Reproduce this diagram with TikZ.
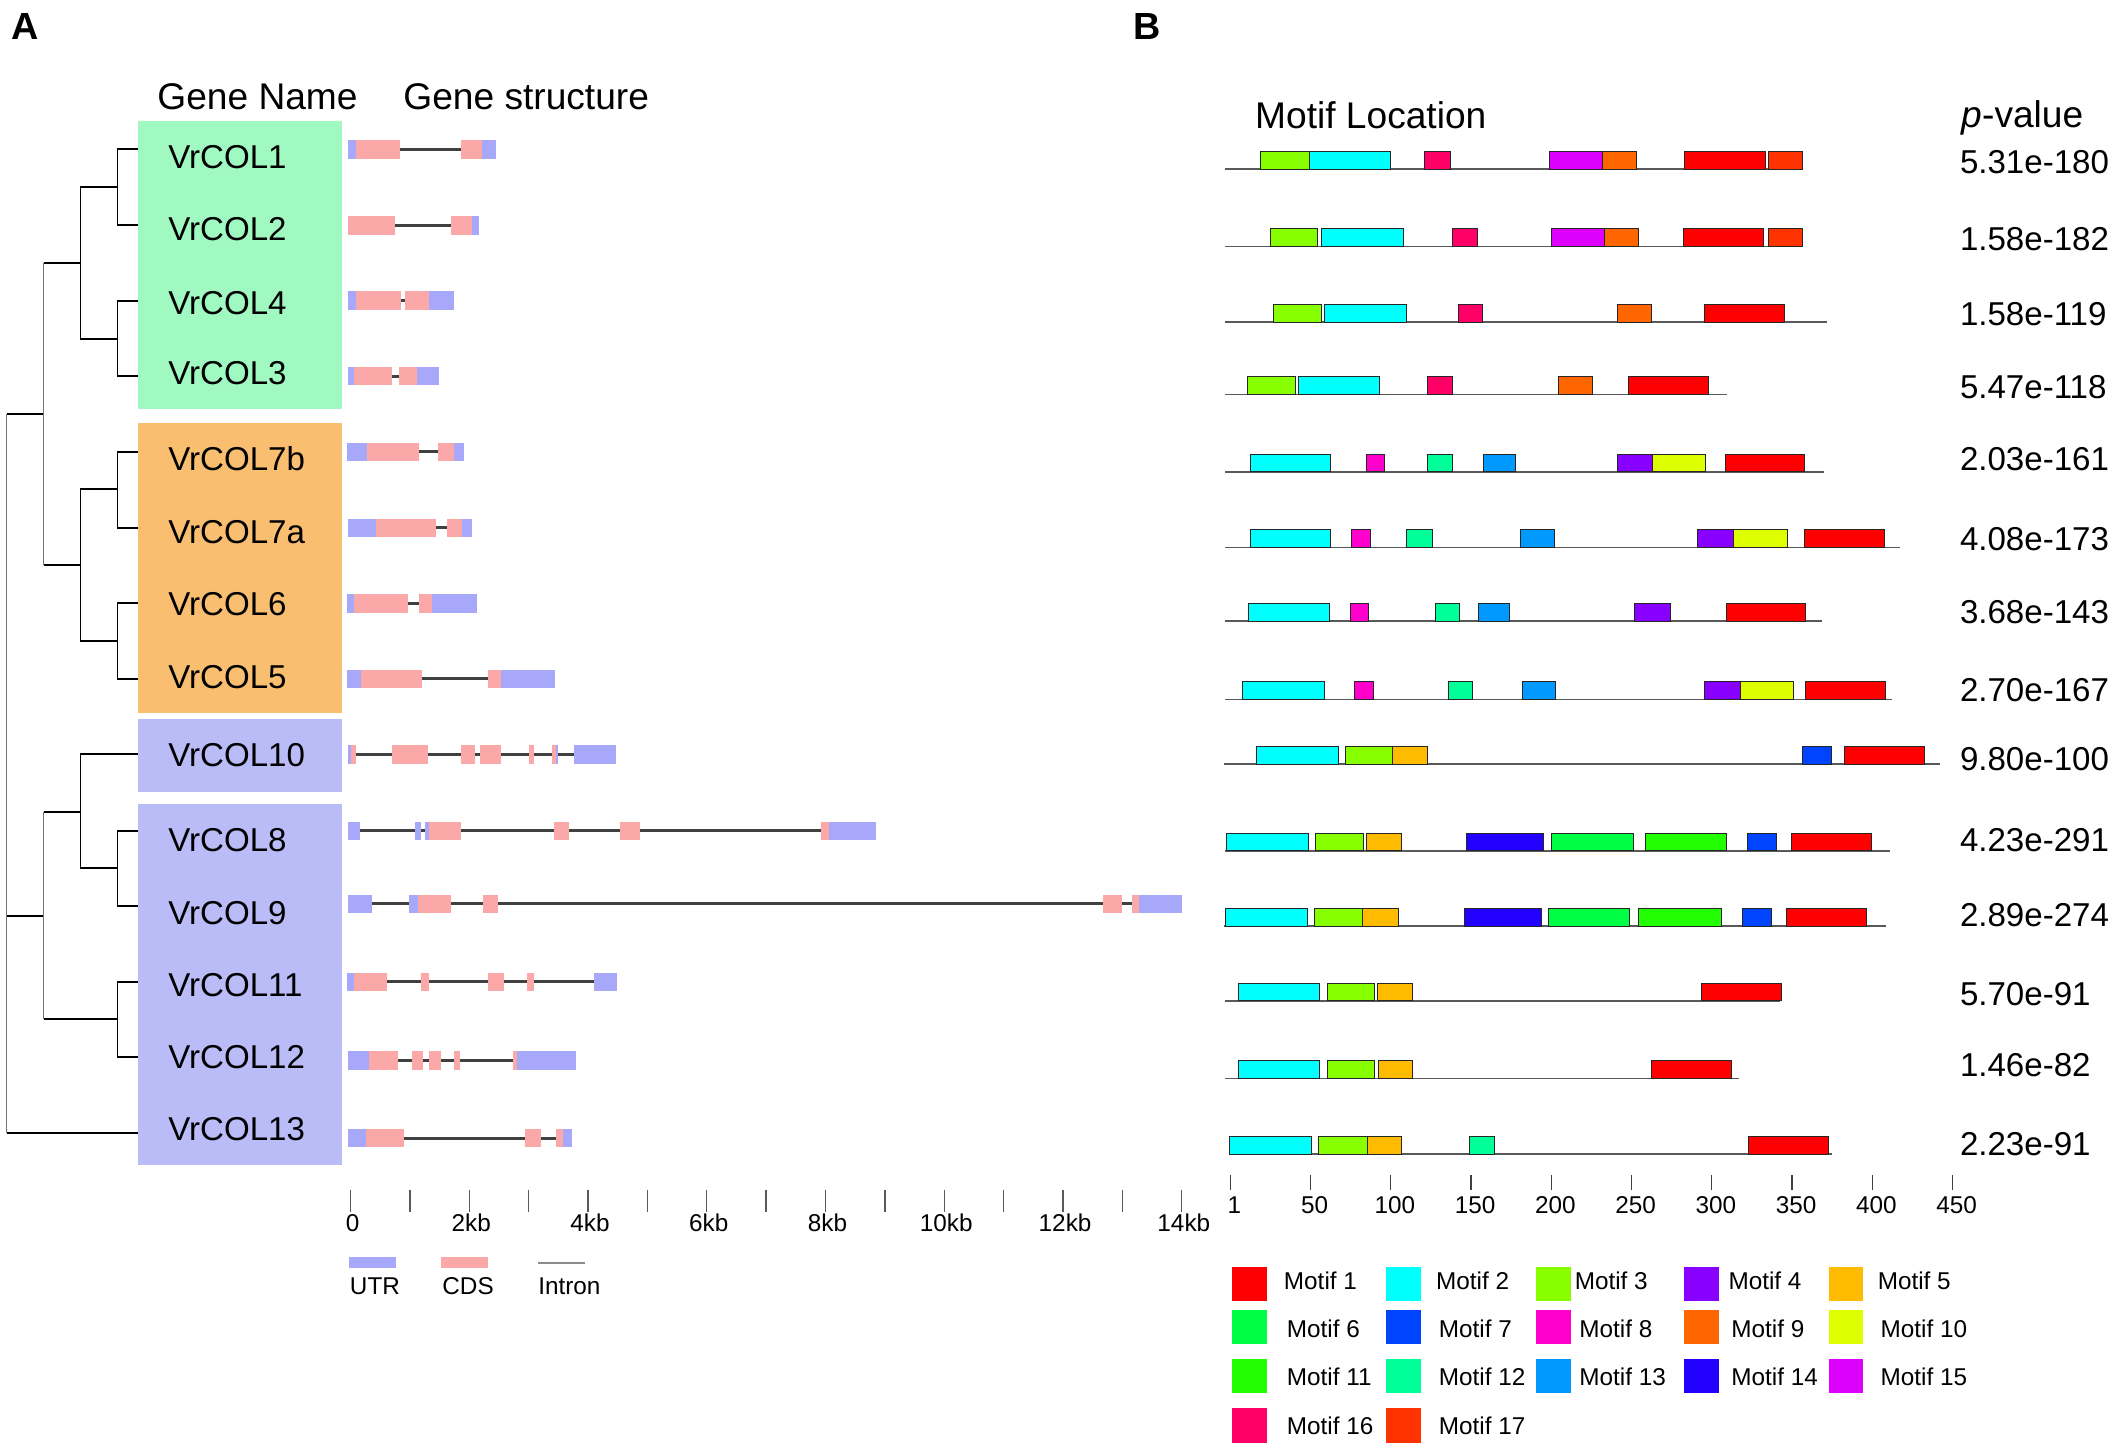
\documentclass[tikz,border=0pt]{standalone}
\usepackage{fontspec}
\setmainfont{Liberation Sans}
\definecolor{utr}{RGB}{168,168,250}
\definecolor{cds}{RGB}{250,168,168}
\definecolor{intr}{RGB}{64,64,64}
\definecolor{grnbox}{RGB}{160,249,192}
\definecolor{orgbox}{RGB}{249,190,112}
\definecolor{blubox}{RGB}{186,188,248}
\definecolor{m1}{RGB}{255,0,0}
\definecolor{m2}{RGB}{0,255,255}
\definecolor{m3}{RGB}{136,255,0}
\definecolor{m4}{RGB}{136,0,255}
\definecolor{m5}{RGB}{255,187,0}
\definecolor{m6}{RGB}{0,255,68}
\definecolor{m7}{RGB}{0,68,255}
\definecolor{m8}{RGB}{255,0,204}
\definecolor{m9}{RGB}{255,102,0}
\definecolor{m10}{RGB}{221,255,0}
\definecolor{m11}{RGB}{34,255,0}
\definecolor{m12}{RGB}{0,255,153}
\definecolor{m13}{RGB}{0,153,255}
\definecolor{m14}{RGB}{34,0,255}
\definecolor{m15}{RGB}{221,0,255}
\definecolor{m16}{RGB}{255,0,102}
\definecolor{m17}{RGB}{255,51,0}
\newcommand\genebar[4]{%
  \draw[intronline] (#2,#1) -- (#3,#1);
  \foreach \colr/\a/\b in {#4} {\fill[fill=\colr] (\a,#1-6.8) rectangle (\b,#1+6.8);}}
\newcommand\motifrow[4]{%
  \draw[mline] (#2,#1) -- (#3,#1);
  \foreach \colr/\a/\b in {#4} {\draw[mbox, fill=\colr] (\a,#1) rectangle (\b,#1-13.2);}}
\begin{document}
\begin{tikzpicture}[x=1pt,y=-1pt,
  tx/.style={inner sep=0pt, anchor=west, text depth=0pt},
  f24/.style={tx, font=\fontsize{24.5}{28}\selectfont, text height=17.5pt},
  f27/.style={tx, font=\fontsize{27.5}{32}\selectfont, text height=19.7pt},
  f22/.style={tx, font=\fontsize{24.5}{28}\selectfont, text height=17.5pt},
  f18/.style={tx, font=\fontsize{18}{21}\selectfont, text height=12.9pt},
  f28b/.style={tx, font=\fontsize{28}{32}\selectfont\bfseries, text height=20.1pt},
  hbr/.style={line width=1.5pt, black},
  vbr/.style={line width=1.1pt, black},
  vbrg/.style={line width=1.1pt, black!55},
  intronline/.style={line width=2.2pt, intr},
  mline/.style={line width=1.2pt, black!65},
  mbox/.style={line width=0.6pt, draw=black!85},
  tickg/.style={line width=1pt, black!65},
  tickm/.style={line width=1pt, black!75}]
\useasboundingbox[fill=white] (0,0) rectangle (1568,1076);

% panel letters and headers
\node[f28b] (pA) at (8.3,18.9) {A};
\node[f28b] (pB) at (839,18.9) {B};
\node[f27] (hGN) at (116.4,71.1) {Gene Name};
\node[f27] (hGS) at (298.6,71.1) {Gene structure};
\node[f27] (hML) at (929.5,85) {Motif Location};
\node[f27] (hPV) at (1452.6,84.5) {\itshape p\upshape-value};

% name boxes
\fill[grnbox] (102,89.4) rectangle (253,303.2);
\fill[orgbox] (102,313.6) rectangle (253,528.4);
\fill[blubox] (102,532.8) rectangle (253,586.4);
\fill[blubox] (102,595.8) rectangle (253,863);

% tree
\foreach \yy in {110.6,166.9,222.7,278.5,334.6,390.9,446.9,502.7,615.3,671.1,727.2,783.2}
  \draw[hbr] (87,\yy) -- (102,\yy);
\draw[hbr] (59.5,558.8) -- (102,558.8);
\draw[hbr] (5,839) -- (102,839);
\foreach \yy in {138.8,250.8,362.5,474.6,643.2}
  \draw[hbr] (59.5,\yy) -- (87,\yy);
\foreach \yy in {194.6,418.5,601.2}
  \draw[hbr] (32.4,\yy) -- (59.5,\yy);
\draw[hbr] (32.4,755) -- (87,755);
\draw[hbr] (5,306.6) -- (32.4,306.6);
\draw[hbr] (5,678.1) -- (32.4,678.1);
\foreach \ya/\yb in {110.6/166.9,222.7/278.5,334.6/390.9,446.9/502.7,615.3/671.1,727.2/783.2}
  \draw[vbr] (87,\ya) -- (87,\yb);
\foreach \ya/\yb in {138.8/250.8,362.5/474.6,558.8/643.2}
  \draw[vbr] (59.5,\ya) -- (59.5,\yb);
\draw[vbrg] (32.4,194.6) -- (32.4,418.5);
\draw[vbrg] (32.4,601.2) -- (32.4,755);
\draw[vbrg] (5,306.6) -- (5,839);

% gene names
\foreach \nm/\yy [count=\i] in {VrCOL1/116,VrCOL2/169.6,VrCOL4/224,VrCOL3/276,VrCOL7b/339.9,VrCOL7a/393.6,VrCOL6/447.3,VrCOL5/501.2,VrCOL10/559.3,VrCOL8/622.2,VrCOL9/675.8,VrCOL11/729.1,VrCOL12/782.7,VrCOL13/835.8}
  \node[f24] (name\i) at (124.5,\yy) {\nm};

% gene structures
\genebar{110.6}{258}{367.7}{utr/258/263.6,cds/263.6/296,cds/341.3/357.2,utr/357.2/367.7}
\genebar{166.9}{258}{354.9}{cds/258/292.7,cds/334/349.6,utr/349.6/354.9}
\genebar{222.7}{258}{336.6}{utr/258/263.6,cds/263.6/297,cds/300.3/317.5,utr/317.5/336.6}
\genebar{278.5}{258}{325.1}{utr/258/262.2,cds/262.2/290.4,cds/295.3/308.5,utr/308.5/325.1}
\genebar{334.6}{257.3}{343.9}{utr/257.3/271.8,cds/271.8/310.2,cds/324.7/336.6,utr/336.6/343.9}
\genebar{390.9}{258}{349.5}{utr/258/278.5,cds/278.5/323.1,cds/331.4/342.3,utr/342.3/349.5}
\genebar{446.9}{257.3}{353.2}{utr/257.3/262.2,cds/262.2/301.9,cds/310.2/320.1,utr/320.1/353.2}
\genebar{502.7}{257.3}{411}{utr/257.3/267.2,cds/267.2/312.5,cds/361.5/371.4,utr/371.4/411}
\genebar{558.8}{258}{456.4}{utr/258/260.3,cds/260.3/263.6,cds/290.4/316.8,cds/341.3/351.5,cds/355.5/371.4,cds/391.9/395.8,cds/409.1/411.7,utr/411.7/413.4,utr/425/456.4}
\genebar{615.3}{258}{648.6}{utr/258/266.9,utr/307.6/311.5,utr/314.8/317.5,cds/317.5/341.6,cds/410.1/421.6,cds/459/473.9,cds/608.4/613.7,utr/613.7/648.6}
\genebar{669.5}{258}{875.2}{utr/258/275.5,utr/303.3/309.9,cds/309.9/334,cds/358.1/368.7,cds/816.9/830.7,cds/838.7/843.5,utr/843.5/875.2}
\genebar{727.2}{257.3}{457}{utr/257.3/262.2,cds/262.2/286.7,cds/311.5/318.1,cds/361.5/373,cds/390.2/395.8,utr/439.8/457}
\genebar{785.5}{258}{426.6}{utr/258/273.5,cds/273.5/295,cds/304.9/313.5,cds/317.5/326.7,cds/336.6/340.6,cds/379.6/382.6,utr/382.6/426.6}
\genebar{843}{258}{423.3}{utr/258/271.2,cds/271.2/299.3,cds/389.2/400.8,cds/411.7/417.3,utr/417.3/423.3}

% gene scale
\foreach \k in {0,...,14}
  \draw[tickg] (259.6+43.98*\k,881.5) -- (259.6+43.98*\k,897.5);
\foreach \k/\t in {0/0,2/2kb,4/4kb,6/6kb,8/8kb,10/10kb,12/12kb,14/14kb}
  \node[f18, anchor=center] (kb\k) at (259.6+43.98*\k+1.5,906) {\t};

% gene legend
\fill[utr] (258.4,930.9) rectangle (293.6,939.5);
\fill[cds] (326.8,930.9) rectangle (361.7,939.5);
\draw[line width=2pt, black!45] (398.7,935.5) -- (433.6,935.5);
\node[f18] (lgU) at (259,952.6) {UTR};
\node[f18] (lgC) at (327.5,952.6) {CDS};
\node[f18] (lgI) at (398.5,952.6) {Intron};

% motif rows
\motifrow{125.4}{907.6}{1335.1}{m3/933.6/969.7,m2/969.7/1030,m16/1055.1/1073.9,m15/1147.9/1187.1,m9/1187.1/1211.8,m1/1247.4/1307.3,m17/1310/1335.1}
\motifrow{182.7}{907.6}{1335.1}{m3/941/976.1,m2/978.8/1039.1,m16/1076.1/1094.4,m15/1149.2/1188.5,m9/1188.5/1213.6,m1/1246.5/1306.4,m17/1309.6/1335.1}
\motifrow{238.7}{907.6}{1353.4}{m3/943.2/978.8,m2/981.1/1041.4,m16/1080.2/1098.1,m9/1197.6/1222.8,m1/1262.1/1321.4}
\motifrow{292.1}{907.6}{1278.9}{m3/924/959.6,m2/961.5/1021.8,m16/1057.4/1076.1,m9/1154.2/1179.4,m1/1205.9/1265.2}
\motifrow{349.4}{907.6}{1351.1}{m2/925.8/985.7,m8/1011.7/1025.4,m12/1057.4/1075.7,m13/1098.5/1122.7,m4/1197.6/1224.1,m10/1224.1/1263,m1/1277.6/1336.1}
\motifrow{405.4}{907.6}{1406.9}{m2/925.8/985.7,m8/1001.2/1014.9,m12/1041.9/1060.6,m13/1126.4/1151.1,m4/1257/1284,m10/1284/1323.7,m1/1336.1/1395.4}
\motifrow{460}{907.6}{1349.8}{m2/924.5/984.3,m8/999.9/1013.6,m12/1062.9/1081.2,m13/1094.9/1118.2,m4/1210.4/1237,m1/1279/1337.4}
\motifrow{518}{907.6}{1401.4}{m2/920.4/980.7,m8/1003.5/1017.2,m12/1072.5/1090.3,m13/1127.3/1152,m4/1262.1/1289,m10/1289/1328.3,m1/1337.4/1396.8}
\motifrow{565.9}{906.7}{1436.6}{m2/930.4/991.2,m3/996.6/1031.4,m5/1031.4/1057,m7/1335.1/1356.6,m1/1365.8/1425.1}
\motifrow{630.1}{907.6}{1400}{m2/908/969.2,m3/974.3/1009.9,m5/1011.7/1037.8,m14/1086.2/1143.3,m6/1148.8/1210,m11/1218.7/1279,m7/1294.1/1315.5,m1/1326.9/1386.3}
\motifrow{685.9}{906.7}{1396.8}{m2/907.6/968.3,m3/973.4/1009,m5/1009/1035.5,m14/1084.4/1141.5,m6/1147/1207.2,m11/1213.6/1274.8,m7/1290.4/1311.9,m1/1323.3/1382.7}
\motifrow{741.2}{907.6}{1318.7}{m2/917.2/977.5,m3/983/1018.1,m5/1019.9/1046,m1/1259.8/1319.2}
\motifrow{798.8}{907.6}{1288.1}{m2/917.2/977.5,m3/983/1018.1,m5/1020.9/1046,m1/1223.2/1282.6}
\motifrow{854.8}{910.3}{1356.6}{m2/910.3/971.5,m3/976.6/1012.6,m5/1012.6/1038.2,m12/1088.5/1106.7,m1/1294.9/1354.3}

% p-values
\foreach \pv/\yy [count=\i] in {5.31e-180/120,1.58e-182/176.5,1.58e-119/232,5.47e-118/286.4,2.03e-161/339.5,4.08e-173/398.8,3.68e-143/453.1,2.70e-167/511.1,9.80e-100/561.7,4.23e-291/622.2,2.89e-274/677.8,5.70e-91/735.8,1.46e-82/788.9,2.23e-91/846.9}
  \node[f22] (pv\i) at (1451.5,\yy) {\pv};

% motif scale
\foreach \t [count=\k from 0] in {1,50,100,150,200,250,300,350,400,450} {
  \draw[tickm] (911.2+59.44*\k,870.4) -- (911.2+59.44*\k,881.5);
  \node[f18, anchor=center] (aa\k) at (911.2+59.44*\k+3,892.6) {\t};
}

% motif legend
\foreach \colr/\sx/\tx/\sy/\ty [count=\n] in {m1/912.7/950.8/938.3/948.6,m2/1026.7/1063.5/938.3/948.6,m3/1138/1166.2/938.3/948.6,m4/1247.6/1280.1/938.3/948.6,m5/1354.6/1390.6/938.3/948.6,m6/912.7/953/970.4/984,m7/1026.7/1065.6/970.4/984,m8/1138/1169.6/970.4/984,m9/1247.6/1282.2/970.4/984,m10/1354.6/1392.7/970.4/984,m11/912.7/953/1006.6/1019.7,m12/1026.7/1065.6/1006.6/1019.7,m13/1138/1169.6/1006.6/1019.7,m14/1247.6/1282.2/1006.6/1019.7,m15/1354.6/1392.7/1006.6/1019.7,m16/912.7/953/1043.2/1056.3,m17/1026.7/1065.6/1043.2/1056.3} {
  \fill[fill=\colr] (\sx,\sy) rectangle (\sx+25.5,\sy+25.3);
  \node[f18] (lg\n) at (\tx,\ty) {Motif \n};
}
\end{tikzpicture}
\end{document}
